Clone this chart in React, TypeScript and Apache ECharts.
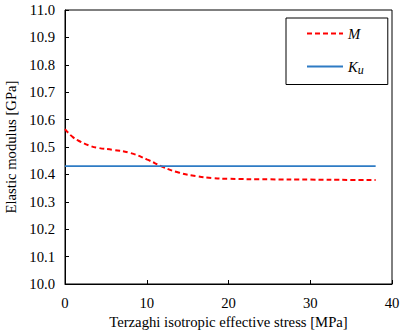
import React, { useEffect, useRef } from "react";
import * as echarts from "echarts";

const stressM: number[] = [0, 1, 2, 3, 4, 6, 8, 10, 12, 14, 16, 18, 20, 25, 30, 35, 38];
const valuesM: number[] = [10.565, 10.535, 10.518, 10.505, 10.497, 10.489, 10.478, 10.455, 10.427, 10.406, 10.394, 10.387, 10.384, 10.382, 10.381, 10.380, 10.380];
const stressKu: number[] = [0, 38];
const valuesKu: number[] = [10.43, 10.43];
const seriesNames: string[] = ["M", "Ku"];

export default function App() {
  const ref = useRef<HTMLDivElement>(null);
  useEffect(() => {
    if (!ref.current) return;
    const chart = echarts.init(ref.current, undefined, { renderer: "svg" });
    const font = "Liberation Serif";
    const fs = 14.7;
    chart.setOption({
      animation: false,
      textStyle: { fontFamily: font },
      grid: {
        left: 65,
        top: 10,
        right: 23,
        bottom: 48,
        containLabel: false,
        outerBoundsMode: "none",
        show: true,
        borderColor: "#000",
        borderWidth: 1,
      },
      legend: {
        orient: "vertical",
        left: 286,
        top: 18,
        align: "left",
        itemWidth: 36,
        itemHeight: 14,
        itemGap: 18,
        padding: [8, 24, 9, 20],
        borderColor: "#000",
        borderWidth: 1,
        itemStyle: { opacity: 0 },
        data: seriesNames,
        formatter: (name: string) => (name === "M" ? "{i|M}" : "{i|K}{s|u}"),
        textStyle: {
          fontFamily: font,
          color: "#000",
          rich: {
            i: { fontFamily: font, fontStyle: "italic", fontSize: fs, color: "#000" },
            s: { fontFamily: font, fontStyle: "italic", fontSize: 12, color: "#000", verticalAlign: "bottom", padding: [6, 0, 0, 0] },
          },
        },
      },
      xAxis: {
        type: "value",
        min: 0,
        max: 40,
        interval: 10,
        name: "Terzaghi isotropic effective stress [MPa]",
        nameLocation: "middle",
        nameGap: 27,
        nameTextStyle: { fontFamily: font, fontSize: fs, color: "#000" },
        axisLine: { show: true, lineStyle: { color: "#000", width: 1 } },
        axisTick: { show: true, inside: true, length: 4, lineStyle: { color: "#000" } },
        axisLabel: { fontFamily: font, fontSize: fs, color: "#000", margin: 11 },
        splitLine: { show: false },
      },
      yAxis: {
        type: "value",
        min: 10,
        max: 11,
        interval: 0.1,
        name: "Elastic modulus [GPa]",
        nameLocation: "middle",
        nameGap: 44,
        nameTextStyle: { fontFamily: font, fontSize: fs, color: "#000" },
        axisLine: { show: true, lineStyle: { color: "#000", width: 1 } },
        axisTick: { show: true, inside: true, length: 4, lineStyle: { color: "#000" } },
        axisLabel: {
          fontFamily: font,
          fontSize: fs,
          color: "#000",
          margin: 10,
          formatter: (v: number) => v.toFixed(1),
        },
        splitLine: { show: false },
      },
      series: [
        {
          name: "M",
          type: "line",
          smooth: true,
          symbol: "none",
          data: stressM.map((x, i) => [x, valuesM[i]]),
          lineStyle: { color: "#FF0000", width: 2, type: [5, 3] },
          itemStyle: { color: "#FF0000" },
        },
        {
          name: "Ku",
          type: "line",
          symbol: "none",
          data: stressKu.map((x, i) => [x, valuesKu[i]]),
          lineStyle: { color: "#2E7BC4", width: 1.8 },
          itemStyle: { color: "#2E7BC4" },
        },
      ],
    });
    return () => chart.dispose();
  }, []);
  return <div ref={ref} style={{ position: "absolute", left: 0, top: 0, width: 415, height: 332 }} />;
}
